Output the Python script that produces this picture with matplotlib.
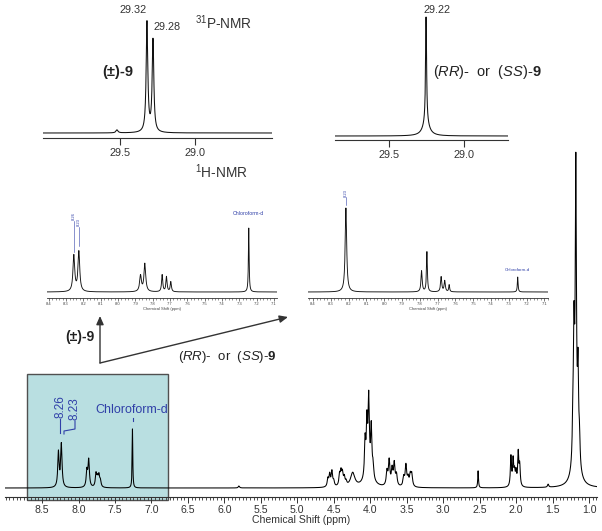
import numpy as np
import matplotlib
matplotlib.use("Agg")
import matplotlib.pyplot as plt
from matplotlib.patches import Rectangle
from matplotlib.ticker import MultipleLocator, FixedLocator

plt.rcParams['font.family'] = ['Liberation Sans', 'DejaVu Sans']
plt.rcParams['mathtext.fontset'] = 'custom'
plt.rcParams['mathtext.rm'] = 'Liberation Sans'
plt.rcParams['mathtext.it'] = 'Liberation Sans:italic'
plt.rcParams['mathtext.bf'] = 'Liberation Sans:bold'

# ---------------- data ----------------
# main 1H-NMR spectrum: peak positions (ppm), heights (a.u.), half widths (ppm)
main_pos = [8.275, 8.235, 7.885, 7.86, 7.76, 7.74, 7.72, 7.70, 7.26,
            4.58, 4.555, 4.525, 4.50,
            4.42, 4.40, 4.38, 4.355, 4.33,
            4.24,
            4.07, 4.045, 4.02, 3.985, 3.96, 4.02,
            3.77, 3.74, 3.70, 3.67, 3.64,
            3.54, 3.51, 3.48, 3.45, 3.43,
            2.52,
            2.07, 2.04, 2.02, 2.00, 1.97, 1.95,
            1.22, 1.205, 1.18, 1.15, 1.13, 1.18, 1.56, 5.8]
main_ht = [35, 43, 16, 27, 13, 8, 11, 6, 59,
           8, 12, 15, 5,
           11, 13, 12, 8, 4,
           14,
           36, 50, 72, 48, 13, 13,
           14, 25, 16, 22, 11,
           9, 21, 8, 11, 12,
           17,
           30, 26, 13, 13, 33, 20,
           40, 115, 278, 85, 25, 35, 3, 2]
main_w = [0.011] * 8 + [0.005] + [0.011] * 4 + [0.011] * 5 + [0.035] + \
         [0.01] * 5 + [0.06] + [0.012] * 5 + [0.012] * 5 + [0.006] + \
         [0.009] * 6 + [0.009] * 5 + [0.045, 0.01, 0.01]

# 31P spectra
p_rac_pos = [29.32, 29.28, 29.52]
p_rac_ht = [110, 92, 3]
p_rac_w = [0.0065, 0.0065, 0.008]
p_rac_labels = ["29.32", "29.28"]

p_rr_pos = [29.253, 29.253]
p_rr_ht = [106, 13]
p_rr_w = [0.004, 0.025]
p_rr_label = "29.22"

# aromatic 1H insets
h_rac_pos = [8.255, 8.226, 7.87, 7.845, 7.745, 7.72, 7.695, 7.245]
h_rac_ht = [36, 40, 16, 28, 17, 15, 10, 64]
h_rac_w = [0.006, 0.006, 0.006, 0.006, 0.004, 0.004, 0.004, 0.0025]
h_rac_labels = ["8.26", "8.23"]

h_rr_pos = [8.215, 7.79, 7.76, 7.68, 7.66, 7.635, 7.25]
h_rr_ht = [84, 21, 40, 15, 11, 7, 15]
h_rr_w = [0.005, 0.004, 0.003, 0.004, 0.004, 0.003, 0.0025]
h_rr_label = "8.23"

main_ticks = [8.5, 8.0, 7.5, 7.0, 6.5, 6.0, 5.5, 5.0, 4.5, 4.0, 3.5, 3.0, 2.5, 2.0, 1.5, 1.0]
p_ticks = [29.5, 29.0]
inset_ticks = [8.4, 8.3, 8.2, 8.1, 8.0, 7.9, 7.8, 7.7, 7.6, 7.5, 7.4, 7.3, 7.2, 7.1]


def spectrum(x, pos, hts, wids):
    y = np.zeros_like(x)
    for p, h, w in zip(pos, hts, wids):
        y += h / (1.0 + ((x - p) / w) ** 2)
    return y


W, H = 602, 531
fig = plt.figure(figsize=(W / 100, H / 100), dpi=100)


def px_axes(x0, y0, x1, y1, **kw):
    return fig.add_axes([x0 / W, 1 - y1 / H, (x1 - x0) / W, (y1 - y0) / H], **kw)


# overlay in pixel coordinates for box, arrows, free text
bg = px_axes(0, 0, W, H, zorder=0)
bg.set_xlim(0, W)
bg.set_ylim(H, 0)
bg.axis('off')

bg.add_patch(Rectangle((27, 374), 141, 126, facecolor='#b9dfe1',
                       edgecolor='#505050', lw=1.0, zorder=0))

dark = '#222222'
blue = '#3040a8'
grey = '#333333'

# --------------- main spectrum ----------------
ax = px_axes(5, 140, 597, 497, zorder=2)
ax.patch.set_alpha(0)
xm = np.linspace(0.89, 9.01, 16000)
ax.plot(xm, spectrum(xm, main_pos, main_ht, main_w), color='black', lw=0.75)
ax.set_xlim(9.008, 0.89)
ax.set_ylim(-9, 348)
for s in ['top', 'right', 'left']:
    ax.spines[s].set_visible(False)
ax.spines['bottom'].set_color(grey)
ax.spines['bottom'].set_linewidth(0.8)
ax.set_yticks([])
ax.xaxis.set_major_locator(FixedLocator(main_ticks))
ax.xaxis.set_minor_locator(MultipleLocator(0.05))
ax.set_xticklabels([f"{t:.1f}" for t in main_ticks])
ax.tick_params(axis='x', which='major', length=4, width=0.7, labelsize=7.6,
               pad=1.5, colors=grey)
ax.tick_params(axis='x', which='minor', length=2.2, width=0.6, colors=grey)
ax.set_xlabel('Chemical Shift (ppm)', fontsize=7.6, labelpad=0.5, color=grey)

# --------------- 31P insets ----------------
def p31_axes(x0, x1, spine_y, lim, pos, hts, wids):
    a = px_axes(x0, 5, x1, spine_y, zorder=3)
    a.patch.set_alpha(0)
    xx = np.linspace(min(lim), max(lim), 6000)
    a.plot(xx, spectrum(xx, pos, hts, wids), color='#111111', lw=0.75)
    a.set_xlim(*lim)
    for s in ['top', 'right', 'left']:
        a.spines[s].set_visible(False)
    a.spines['bottom'].set_linewidth(0.8)
    a.spines['bottom'].set_color(grey)
    a.set_yticks([])
    a.set_xticks(p_ticks)
    a.set_xticklabels([f"{t:.1f}" for t in p_ticks])
    a.tick_params(axis='x', length=5, width=0.8, labelsize=7.8, pad=2,
                  colors=grey)
    return a

a1 = p31_axes(43, 272, 138, (30.013, 28.487), p_rac_pos, p_rac_ht, p_rac_w)
a1.set_ylim(-5, 128)
a2 = p31_axes(335, 508, 140, (29.86, 28.707), p_rr_pos, p_rr_ht, p_rr_w)
a2.set_ylim(-4, 131)

bg.text(147, 10, p_rac_labels[0], fontsize=7.8, ha='right', va='center', color=grey)
bg.text(153, 27, p_rac_labels[1], fontsize=7.8, ha='left', va='center', color=grey)
bg.text(423, 10, p_rr_label, fontsize=7.8, ha='left', va='center', color=grey)

bg.text(195, 23, r'$^{31}$P-NMR', fontsize=9.8, ha='left', va='center', color=grey)
bg.text(195, 172, r'$^{1}$H-NMR', fontsize=9.8, ha='left', va='center', color=grey)
bg.text(102, 72, '(±)-9', fontsize=10.5, fontweight='bold', ha='left', va='center', color=dark)
bg.text(433, 72, r'($\mathit{RR}$)-  or  ($\mathit{SS}$)-$\mathbf{9}$', fontsize=10.5,
        ha='left', va='center', color=dark)

# --------------- aromatic 1H insets ----------------
def h_axes(x0, x1, lim, pos, hts, wids):
    a = px_axes(x0, 180, x1, 298, zorder=3)
    a.patch.set_alpha(0)
    xx = np.linspace(min(lim), max(lim), 6000)
    a.plot(xx, spectrum(xx, pos, hts, wids), color='#111111', lw=0.65)
    a.set_xlim(*lim)
    a.set_ylim(-6, 112)
    for s in ['top', 'right', 'left']:
        a.spines[s].set_visible(False)
    a.spines['bottom'].set_linewidth(0.6)
    a.spines['bottom'].set_color(grey)
    a.set_yticks([])
    a.xaxis.set_major_locator(FixedLocator(inset_ticks))
    a.xaxis.set_minor_locator(MultipleLocator(0.02))
    a.set_xticklabels([f"{t:.1f}" for t in inset_ticks])
    a.tick_params(axis='x', which='major', length=2, width=0.5, labelsize=3, pad=1.2,
                  colors='#444444')
    a.tick_params(axis='x', which='minor', length=1.2, width=0.4, colors='#444444')
    a.set_xlabel('Chemical Shift (ppm)', fontsize=3, labelpad=0.5, color='#444444')
    return a

h1 = h_axes(47, 277, (8.41, 7.082), h_rac_pos, h_rac_ht, h_rac_w)
h2 = h_axes(308, 548, (8.428, 7.08), h_rr_pos, h_rr_ht, h_rr_w)

# inset labels
h1.text(h_rac_pos[0], 72, h_rac_labels[0], rotation=90, fontsize=3, color=blue,
        ha='center', va='bottom')
h1.text(h_rac_pos[1], 66, h_rac_labels[1], rotation=90, fontsize=3, color=blue,
        ha='center', va='bottom')
h1.plot([h_rac_pos[0]] * 2, [40, 71], color=blue, lw=0.4)
h1.plot([h_rac_pos[1]] * 2, [46, 65], color=blue, lw=0.4)
h1.text(h_rac_pos[-1], 76, 'Chloroform-d', fontsize=3.8, color=blue, ha='center', va='bottom')
h2.text(h_rr_pos[0], 95, h_rr_label, rotation=90, fontsize=3, color=blue,
        ha='center', va='bottom')
h2.plot([h_rr_pos[0]] * 2, [87, 95], color=blue, lw=0.4)
h2.text(h_rr_pos[-1], 20, 'Chloroform-d', fontsize=3.2, color=blue, ha='center', va='bottom')

# --------------- arrows and labels ----------------
bg.annotate('', xy=(100, 316), xytext=(100, 363),
            arrowprops=dict(arrowstyle='-|>,head_length=0.5,head_width=0.22',
                            color=grey, lw=1.0, shrinkA=0, shrinkB=0))
bg.annotate('', xy=(288, 317), xytext=(100, 363),
            arrowprops=dict(arrowstyle='-|>,head_length=0.5,head_width=0.22',
                            color=grey, lw=1.0, shrinkA=0, shrinkB=0))
bg.text(65, 337, '(±)-9', fontsize=10, fontweight='bold', ha='left', va='center', color=dark)
bg.text(178, 357, r'($\mathit{RR}$)-  or  ($\mathit{SS}$)-$\mathbf{9}$', fontsize=9.5,
        ha='left', va='center', color=dark)

# main spectrum labels
bg.text(60, 407, '8.26', rotation=90, fontsize=8.5, color=blue,
        ha='center', va='center')
bg.text(75, 409, '8.23', rotation=90, fontsize=8.5, color=blue, ha='center', va='center')
bg.plot([60, 60], [419, 433], color=blue, lw=0.8)
bg.plot([75, 75, 64, 64], [421, 429, 431, 434], color=blue, lw=0.8)
bg.text(132, 410, 'Chloroform-d', fontsize=9, color=blue, ha='center', va='center')
bg.plot([133, 133], [418, 421], color=blue, lw=0.8)

fig.savefig('out.png', dpi=100)
